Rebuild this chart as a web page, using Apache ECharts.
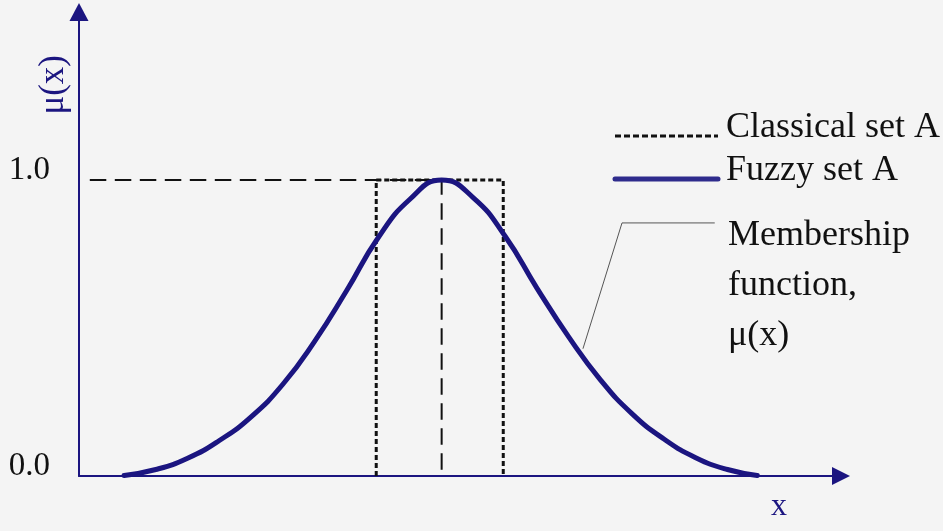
<!DOCTYPE html>
<html>
<head>
<meta charset="utf-8">
<script src="https://cdn.jsdelivr.net/npm/echarts@6/dist/echarts.min.js"></script>
<style>
html,body{margin:0;padding:0;background:#f4f4f4;}
#chart{width:943px;height:531px;}
</style>
</head>
<body>
<div id="chart"></div>
<script>
// Fuzzy set A: membership function
var fuzzyX = [-5, -4.5, -4, -3.5, -3, -2.5, -2, -1.5, -1, -0.5, 0, 0.5, 1, 1.5, 2, 2.5, 3, 3.5, 4, 4.5, 4.97];
var fuzzyY = [0.002, 0.022, 0.06, 0.12, 0.2, 0.31, 0.455, 0.625, 0.805, 0.935, 1.0, 0.94, 0.81, 0.635, 0.47, 0.325, 0.21, 0.125, 0.062, 0.022, 0.002];
// Classical set A: crisp rectangle
var classicalX = [-1.03, -1.03, 0.97, 0.97];
var classicalY = [0, 1, 1, 0];
// Dashed guide lines (level 1.0 and peak)
var guideX = [-5.54, 0, 0];
var guideY = [1, 1, 0];
// Leader line of the annotation
var leaderX = [4.30, 2.84, 2.225];
var leaderY = [0.855, 0.855, 0.43];
// Tick labels
var yTickLabels = {0: '0.0', 1: '1.0'};
var legendNames = ['Classical set A', 'Fuzzy set A'];
var annotationLines = ['Membership', 'function,', 'μ(x)'];

function zip(xs, ys) { return xs.map(function (x, i) { return [x, ys[i]]; }); }

var NAVY = '#1b1580';
var SERIF = '"Liberation Serif", "DejaVu Serif", serif';

var chart = echarts.init(document.getElementById('chart'), null, {renderer: 'canvas'});
chart.setOption({
  backgroundColor: '#f4f4f4',
  animation: false,
  grid: {left: 79, right: 102, top: 12, bottom: 55, containLabel: false},
  xAxis: {
    type: 'value', min: -5.71, max: 6.288,
    name: 'x', nameLocation: 'end', nameGap: -62,
    nameTextStyle: {fontFamily: SERIF, fontSize: 32, color: NAVY, align: 'center', verticalAlign: 'top', padding: [15, 0, 0, 0]},
    axisLine: {onZero: false, symbol: ['none', 'triangle'], symbolSize: [18, 18], lineStyle: {color: NAVY, width: 2}},
    axisTick: {show: false}, axisLabel: {show: false}, splitLine: {show: false}
  },
  yAxis: {
    type: 'value', min: 0, max: 1.5676, interval: 1,
    name: 'μ(x)', nameLocation: 'end', nameRotate: 90, nameGap: -43,
    nameTextStyle: {fontFamily: SERIF, fontSize: 35, color: NAVY, align: 'right', verticalAlign: 'bottom', padding: [0, 0, 8, 0]},
    axisLine: {show: true, onZero: false, symbol: ['none', 'triangle'], symbolSize: [19, 18], lineStyle: {color: NAVY, width: 2}},
    axisTick: {show: false}, splitLine: {show: false},
    axisLabel: {
      showMaxLabel: false, margin: 29, fontFamily: SERIF, fontSize: 33, color: '#111',
      verticalAlign: 'bottom', lineHeight: 20,
      formatter: function (v) { return yTickLabels[v] !== undefined ? yTickLabels[v] : ''; }
    }
  },
  legend: {
    orient: 'vertical', left: 607.5, top: 105, selectedMode: false,
    itemWidth: 103, itemHeight: 14, itemGap: 7,
    formatter: function (name) { return '{t|' + name + '}'; },
    textStyle: {
      fontFamily: SERIF, fontSize: 36, color: '#111',
      rich: {t: {fontFamily: SERIF, fontSize: 36, color: '#111', padding: [0, 0, 16, 3]}}
    },
    data: [
      {name: legendNames[0], lineStyle: {type: [6, 3], width: 3, color: '#111'}, itemStyle: {opacity: 0}},
      {name: legendNames[1], lineStyle: {width: 5, cap: 'round', color: '#2e2b8c'}, itemStyle: {opacity: 0}}
    ]
  },
  series: [
    {name: 'guides', type: 'line', data: zip(guideX, guideY), symbol: 'none', silent: true,
     lineStyle: {color: '#111', width: 2, type: [16.5, 8.5]}, z: 2},
    {name: legendNames[0], type: 'line', data: zip(classicalX, classicalY), symbol: 'none',
     itemStyle: {color: '#111'},
     lineStyle: {color: '#111', width: 3, type: [5, 3]}, z: 3},
    {name: legendNames[1], type: 'line', data: zip(fuzzyX, fuzzyY), symbol: 'none', smooth: 0.5,
     itemStyle: {color: NAVY},
     lineStyle: {color: NAVY, width: 5, cap: 'round'}, z: 4},
    {name: 'leader', type: 'line', data: zip(leaderX, leaderY), symbol: 'none', silent: true,
     lineStyle: {color: '#555', width: 1}, z: 5}
  ],
  graphic: [{
    type: 'text', left: 728, top: 211,
    style: {text: annotationLines.join('\n'), font: '36px ' + SERIF, lineHeight: 50, fill: '#111'}
  }]
});
</script>
</body>
</html>
